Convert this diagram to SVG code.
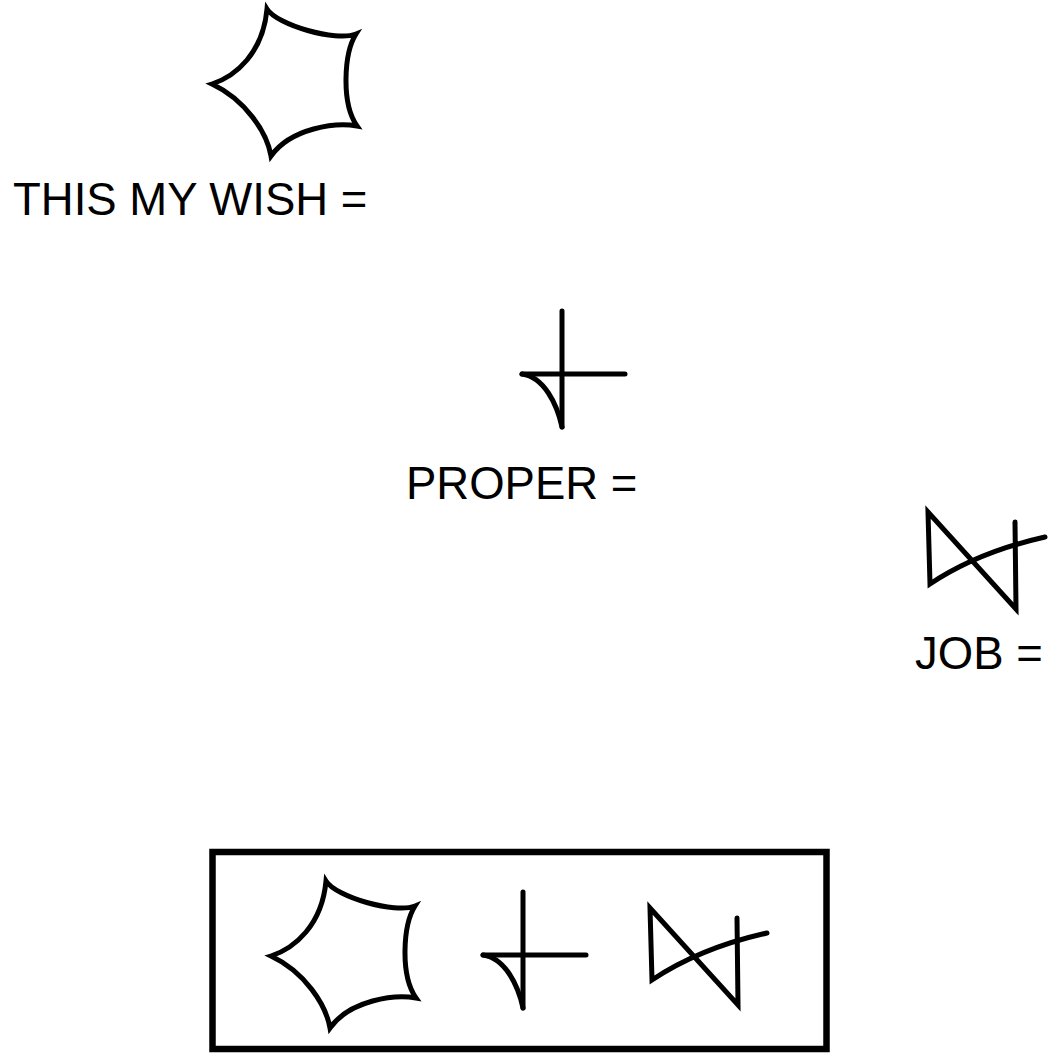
<svg xmlns="http://www.w3.org/2000/svg" width="1051" height="1053" viewBox="0 0 1051 1053">
<style>
.g{fill:none;stroke:#000;stroke-width:5;stroke-linejoin:miter;stroke-linecap:round;stroke-miterlimit:20}
.t{font-family:"Liberation Sans",Arial,sans-serif;font-size:45.5px;fill:#000}
.box{fill:none;stroke:#000;stroke-width:6.5}
</style>
<defs>
<path id="star" class="g" d="M326,881 C336,897 395,914 415,906 C403,925 400,975 416,998 C395,994 350,1000 330,1028 C326,1005 305,972 271,956 C295,948 322,925 326,881 Z"/>
<g id="cross" class="g">
<path d="M523,892 L523,1008"/>
<path d="M483,955 L586,955"/>
<path d="M483,955 C505,958 518,985 523,1008"/>
</g>
<path id="bow" class="g" d="M737,918 L738,1005 L650,908 L652,980 Q700,948 767,933"/>
</defs>
<rect width="1051" height="1053" fill="#fff"/>
<g id="node-wish">
<use href="#star" transform="translate(-59,-872)"/>
<text class="t" x="13" y="215">THIS MY WISH =</text>
</g>
<g id="node-proper">
<use href="#cross" transform="translate(39,-581)"/>
<text class="t" x="406" y="499">PROPER =</text>
</g>
<g id="node-job">
<use href="#bow" transform="translate(278,-396)"/>
<text class="t" x="915" y="669">JOB =</text>
</g>
<g id="node-sentence">
<rect class="box" x="212.5" y="852" width="614" height="197"/>
<use href="#star"/>
<use href="#cross"/>
<use href="#bow"/>
</g>
<g id="connectors"></g>
</svg>
